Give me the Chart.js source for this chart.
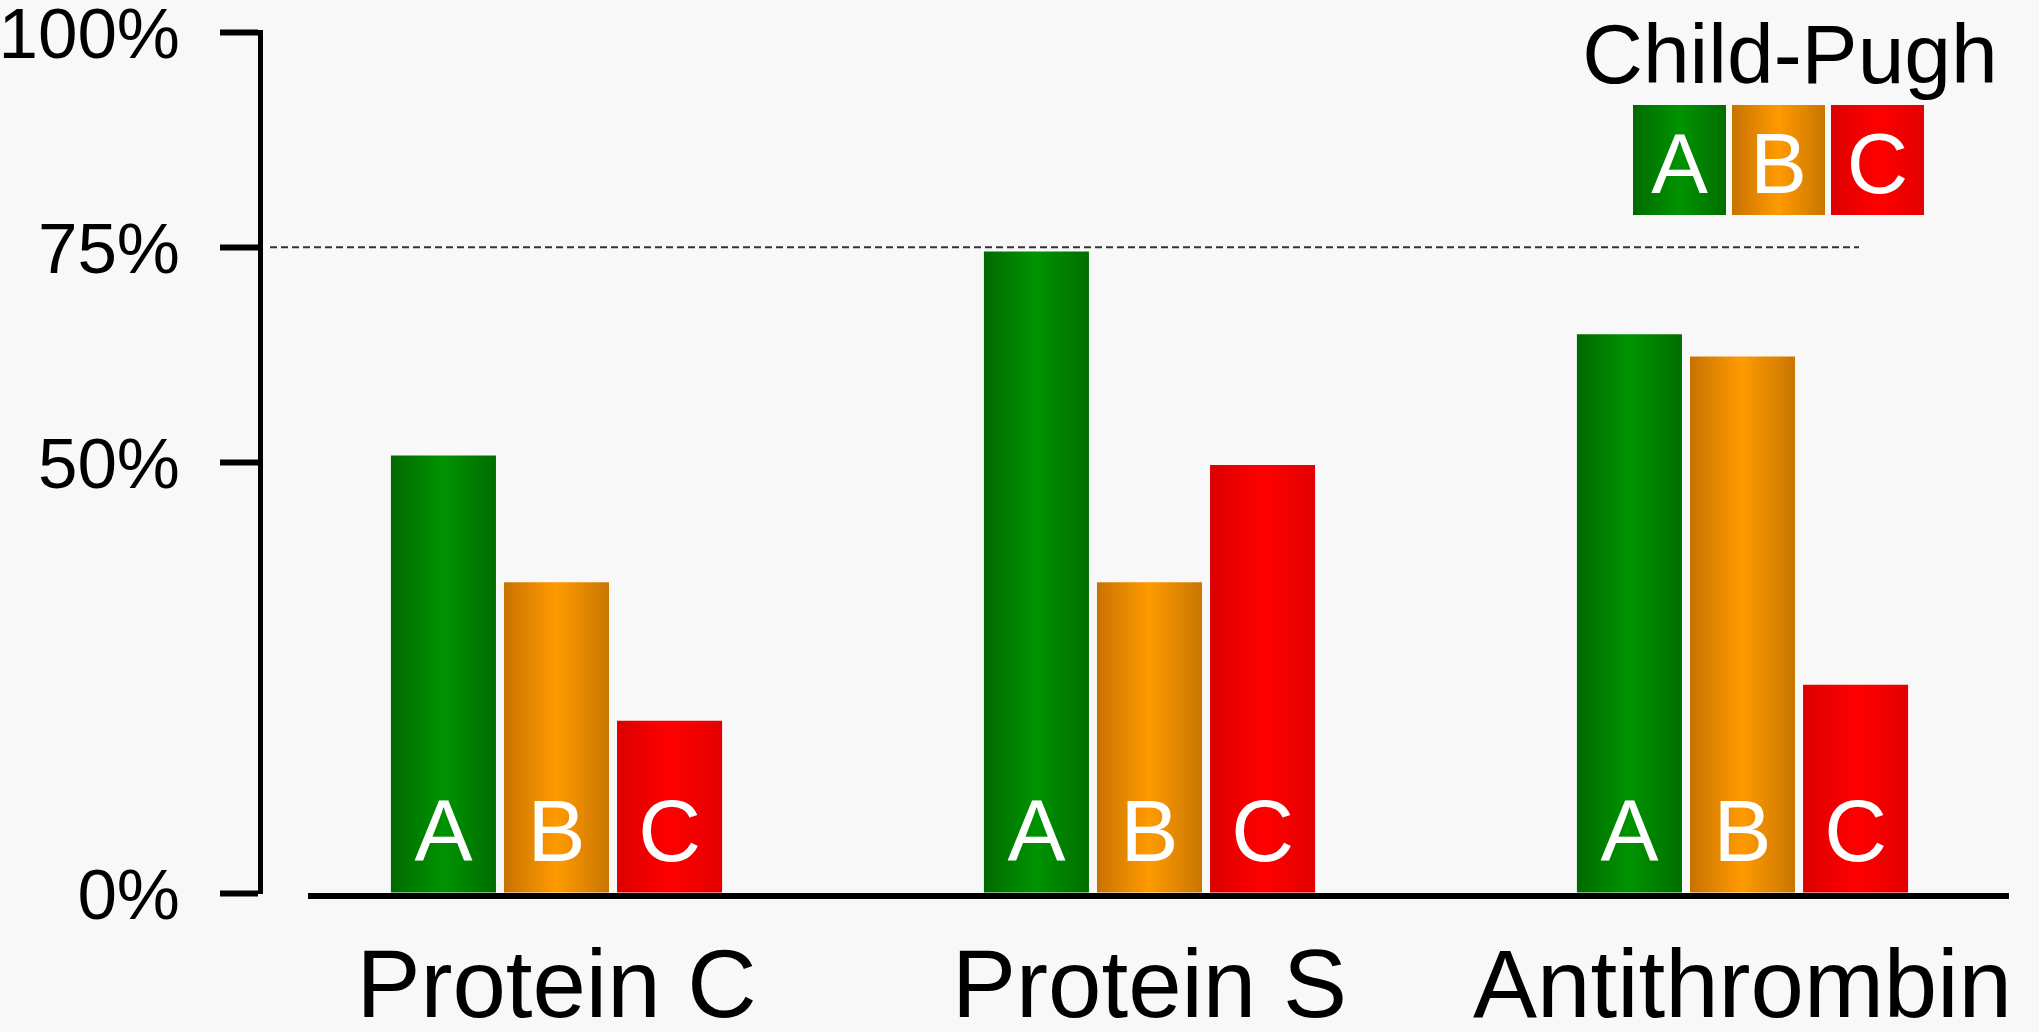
<!DOCTYPE html>
<html lang="en">
<head>
  <meta charset="UTF-8">
  <title>Child-Pugh: Protein C, Protein S, Antithrombin</title>
  <script src="https://cdn.jsdelivr.net/npm/chart.js"></script>
  <style>
    html, body {
      margin: 0;
      padding: 0;
      background: #f8f8f8;
    }

    .chart-box {
      position: relative;
      width: 2039px;
      height: 1032px;
    }
  </style>
</head>
<body>
  <div class="chart-box">
    <canvas id="chart"></canvas>
  </div>

  <script>
    // data (percent)
    const proteins = ['Protein C', 'Protein S', 'Antithrombin'];
    const grades = ['A', 'B', 'C'];
    const gradeA = [50.8, 74.5, 64.9];
    const gradeB = [36.1, 36.1, 62.3];
    const gradeC = [20.0, 49.7, 24.2];
    const yTicks = [0, 50, 75, 100];
    const refLevel = 75;
    const legendTitle = 'Child-Pugh';

    // edge / middle / edge colours of each grade's shading
    const shades = [
      ['#006a00', '#009300', '#006e00'],
      ['#c87200', '#ff9a00', '#c87600'],
      ['#dc0000', '#ff0000', '#e40000']
    ];
    const FONT = "'Liberation Sans', Arial, sans-serif";

    function shade(ctx, x0, x1, cols) {
      const g = ctx.createLinearGradient(x0, 0, x1, 0);
      g.addColorStop(0, cols[0]);
      g.addColorStop(0.5, cols[1]);
      g.addColorStop(1, cols[2]);
      return g;
    }

    // horizontal gradient on every bar (options are per bar since the colour is scriptable)
    const barShading = {
      id: 'barShading',
      beforeDatasetsDraw(chart) {
        const ctx = chart.ctx;
        chart.data.datasets.forEach((ds, i) => {
          chart.getDatasetMeta(i).data.forEach(bar => {
            const half = bar.width / 2;
            bar.options.backgroundColor = shade(ctx, bar.x - half, bar.x + half, shades[i]);
          });
        });
      }
    };

    // dashed 75% line + baseline
    const guides = {
      id: 'guides',
      beforeDatasetsDraw(chart) {
        const { ctx, chartArea, scales } = chart;
        const y = scales.y.getPixelForValue(refLevel);
        ctx.save();
        ctx.strokeStyle = '#333';
        ctx.lineWidth = 2;
        ctx.setLineDash([7, 4]);
        ctx.beginPath();
        ctx.moveTo(chartArea.left + 10, y);
        ctx.lineTo(chartArea.right - 180, y);
        ctx.stroke();
        ctx.restore();
      },
      afterDatasetsDraw(chart) {
        const { ctx, chartArea, scales } = chart;
        const y0 = scales.y.getPixelForValue(0) + 3;
        ctx.save();
        ctx.strokeStyle = '#000';
        ctx.lineWidth = 6;
        ctx.beginPath();
        ctx.moveTo(chartArea.left + 48, y0);
        ctx.lineTo(chartArea.right - 30, y0);
        ctx.stroke();
        ctx.restore();
      }
    };

    // grade letter at the foot of each bar
    const barLetters = {
      id: 'barLetters',
      afterDatasetsDraw(chart) {
        const ctx = chart.ctx;
        ctx.save();
        ctx.fillStyle = '#fff';
        ctx.font = '87px ' + FONT;
        ctx.textAlign = 'center';
        ctx.textBaseline = 'alphabetic';
        chart.data.datasets.forEach((ds, i) => {
          chart.getDatasetMeta(i).data.forEach(bar => {
            ctx.fillText(ds.label, bar.x, bar.base - 32);
          });
        });
        ctx.restore();
      }
    };

    // "Child-Pugh" key in the top right corner
    const gradeKey = {
      id: 'gradeKey',
      afterDraw(chart) {
        const ctx = chart.ctx;
        const w = chart.width;
        ctx.save();
        ctx.fillStyle = '#000';
        ctx.font = '84px ' + FONT;
        ctx.textAlign = 'center';
        ctx.textBaseline = 'alphabetic';
        ctx.fillText(legendTitle, w - 249, 83);

        const boxW = 93, boxH = 110, step = 99, top = 105;
        let left = w - 406;
        ctx.font = '85px ' + FONT;
        grades.forEach((g, i) => {
          ctx.fillStyle = shade(ctx, left, left + boxW, shades[i]);
          ctx.fillRect(left, top, boxW, boxH);
          ctx.fillStyle = '#fff';
          ctx.fillText(g, left + boxW / 2, top + 88);
          left += step;
        });
        ctx.restore();
      }
    };

    const series = [gradeA, gradeB, gradeC];

    new Chart(document.getElementById('chart'), {
      type: 'bar',
      data: {
        labels: proteins,
        datasets: grades.map((g, i) => ({
          label: g,
          data: series[i],
          backgroundColor: c => shades[c.datasetIndex][1],
          borderWidth: 0,
          barPercentage: 0.929,
          categoryPercentage: 0.572
        }))
      },
      options: {
        responsive: true,
        maintainAspectRatio: false,
        animation: false,
        layout: { padding: 0 },
        plugins: {
          legend: { display: false },
          tooltip: { enabled: false }
        },
        scales: {
          x: {
            afterFit: s => {
              s.height = 139;
              s.paddingLeft = 0;
              s.paddingRight = 0;
            },
            border: { display: false },
            grid: { display: false, drawTicks: false },
            ticks: {
              color: '#000',
              font: { family: FONT, size: 96 },
              padding: 40,
              maxRotation: 0,
              autoSkip: false
            }
          },
          y: {
            min: 0,
            max: 100,
            afterBuildTicks: s => { s.ticks = yTicks.map(v => ({ value: v })); },
            afterFit: s => {
              s.width = 260;
              s.paddingTop = 32;
              s.paddingBottom = 0;
            },
            border: { display: true, color: '#000', width: 5 },
            grid: {
              drawOnChartArea: false,
              drawTicks: true,
              tickLength: 40,
              tickWidth: 6,
              tickColor: '#000'
            },
            ticks: {
              color: '#000',
              font: { family: FONT, size: 71 },
              padding: 40,
              labelOffset: 6,
              callback: v => v + '%'
            }
          }
        }
      },
      plugins: [barShading, guides, barLetters, gradeKey]
    });
  </script>
</body>
</html>
